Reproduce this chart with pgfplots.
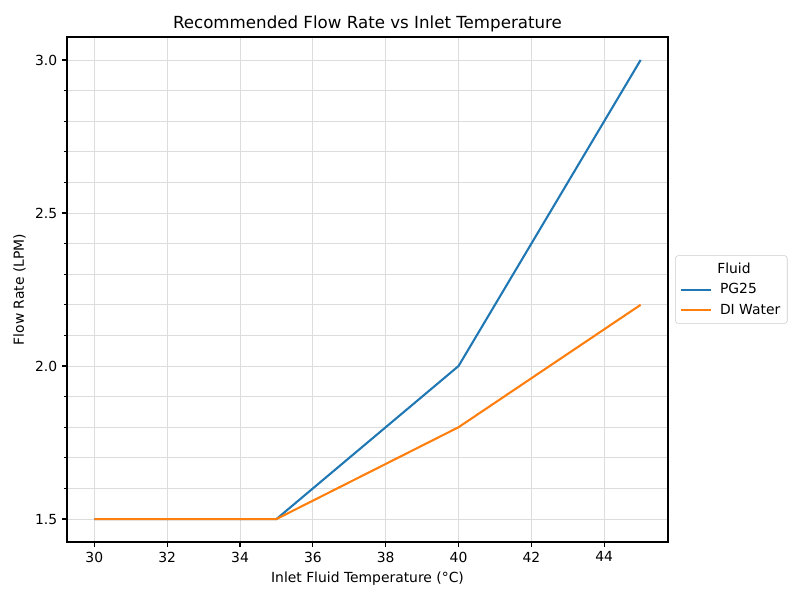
\documentclass[border=0pt]{standalone}
\usepackage{pgfplots}
\pgfplotsset{compat=1.18}
\usepackage{fontspec}
\setmainfont{DejaVu Sans}
\definecolor{tabblue}{HTML}{1F77B4}
\definecolor{taborange}{HTML}{FF7F0E}
\definecolor{gridgray}{HTML}{DCDCDC}
\definecolor{leggray}{HTML}{CCCCCC}
\begin{document}
\begin{tikzpicture}
\path[use as bounding box] (0,0) rectangle (576pt,432pt);
\begin{axis}[
  at={(48.24pt,41.76pt)}, anchor=south west,
  scale only axis, width=432.7pt, height=363.6pt,
  xmin=29.25, xmax=45.75, ymin=1.425, ymax=3.075,
  xtick={30,32,...,44},
  ytick={1.5,2.0,2.5,3.0},
  minor ytick={1.4,1.5,...,3.01},
  yticklabel style={/pgf/number format/.cd,fixed,fixed zerofill,precision=1},
  /pgf/number format/assume math mode=true,
  tick label style={font=\fontsize{10}{12}\selectfont},
  label style={font=\fontsize{10}{12}\selectfont},
  title style={font=\fontsize{12}{14}\selectfont, yshift=-6pt},
  title={Recommended Flow Rate vs Inlet Temperature},
  xlabel={Inlet Fluid Temperature (°C)},
  ylabel={Flow Rate (LPM)},
  grid=both,
  major grid style={gridgray, line width=0.6pt},
  minor grid style={gridgray, line width=0.6pt},
  axis line style={line width=0.8pt},
  tick align=outside, xtick pos=bottom, ytick pos=left,
  major tick length=3.5pt, minor tick length=2pt,
  every tick/.style={black, line width=0.8pt},
  legend style={at={(1.012,0.5)}, anchor=west, draw=leggray, rounded corners=2pt,
    font=\fontsize{10}{12}\selectfont, inner sep=3pt, row sep=2pt, column sep=4pt},
  legend cell align=left,
  legend image code/.code={\draw[#1] (0pt,0pt) -- (21.6pt,0pt);},
]
\addlegendimage{empty legend}
\addlegendentry{\hspace{-2pt}Fluid}
\addplot[tabblue, line width=1.5pt] coordinates {(30,1.5) (35,1.5) (40,2.0) (45,3.0)};
\addlegendentry{PG25}
\addplot[taborange, line width=1.5pt] coordinates {(30,1.5) (35,1.5) (40,1.8) (45,2.2)};
\addlegendentry{DI Water}
\end{axis}
\end{tikzpicture}
\end{document}
